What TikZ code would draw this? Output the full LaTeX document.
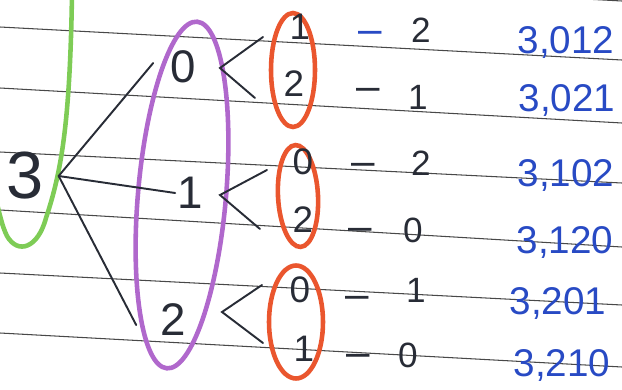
\documentclass[tikz,border=0pt]{standalone}
\usepackage{fontspec}
\setmainfont{Liberation Sans}
\usepackage{tikz}
\usetikzlibrary{positioning, shapes.geometric, calc}

\definecolor{stiftlila}{RGB}{176,104,204}
\definecolor{stiftrot}{RGB}{234,86,46}
\definecolor{stiftgruen}{RGB}{126,204,86}
\definecolor{stiftblau}{RGB}{40,74,196}
\definecolor{linie}{RGB}{72,72,72}
\definecolor{tinte}{RGB}{40,44,54}

\begin{document}
\begin{tikzpicture}[
                x=0.02cm, y=-0.02cm,
                ruling/.style={draw=linie, line width=0.6pt},
                wurzel/.style={inner sep=1pt, text=tinte, font=\fontsize{38}{40}\selectfont},
                stufeeins/.style={inner sep=1pt, text=tinte, font=\fontsize{26}{28}\selectfont},
                stufezwei/.style={inner sep=1pt, text=tinte, font=\fontsize{21}{24}\selectfont},
                stufedrei/.style={inner sep=1pt, text=tinte, font=\fontsize{20}{22}\selectfont},
                strich/.style={inner sep=0pt, anchor=mid, yshift=-0.18cm, text=tinte, font=\fontsize{24}{26}\selectfont},
                ergebnis/.style={inner sep=1pt, text=stiftblau, font=\fontsize{22}{25}\selectfont},
                edge/.style={draw=tinte, line width=1.1pt, line cap=round},
                huelle/.style={draw, ellipse, line width=2.6pt, inner sep=0pt}
            ]

            \useasboundingbox (0,0) rectangle (622,389);

            % Linien
            \begin{scope}
                \clip (0,0) rectangle (622,389);
                \draw[ruling] (0,-32) -- (622,1);
                \draw[ruling] (0,27) -- (622,60);
                \draw[ruling] (0,88) -- (622,123);
                \draw[ruling] (0,152) -- (622,183);
                \draw[ruling] (0,210) -- (622,247);
                \draw[ruling] (0,273) -- (622,305);
                \draw[ruling] (0,333) -- (622,367);
                \draw[stiftgruen, line width=2.6pt, line cap=round] (72,-6) .. controls (70,120) and (62,170) .. (46,218) .. controls (38,248) and (18,255) .. (7,236) .. controls (2,226) and (0,215) .. (-4,200);
            \end{scope}

            % Huellen
            \node[huelle, draw=stiftlila, minimum width=1.76cm, minimum height=6.96cm, rotate=-5] (lila) at (182,195) {};
            \node[huelle, draw=stiftrot, minimum width=0.88cm, minimum height=2.28cm] (rot0) at (293,70) {};
            \node[huelle, draw=stiftrot, minimum width=0.8cm, minimum height=2.04cm, rotate=3] (rot1) at (298,196) {};
            \node[huelle, draw=stiftrot, minimum width=1.08cm, minimum height=2.26cm] (rot2) at (296,322) {};

            % Knoten
            \node[wurzel] (r) at (25,176) {3};
            \node[stufeeins] (a0) at (183,67) {0};
            \node[stufeeins] (a1) at (190,193) {1};
            \node[stufeeins] (a2) at (173,320) {2};

            \node[stufezwei] (b01) at (300,27) {1};
            \node[stufezwei] (b02) at (294,84) {2};
            \node[stufezwei] (b10) at (303,162) {0};
            \node[stufezwei] (b12) at (303,220) {2};
            \node[stufezwei] (b20) at (300,290) {0};
            \node[stufezwei] (b21) at (304,349) {1};

            \node[strich, text=stiftblau] (s1) at (370,30) {--};
            \node[strich] (s2) at (368,87) {--};
            \node[strich] (s3) at (363,162) {--};
            \node[strich] (s4) at (360,227) {--};
            \node[strich] (s5) at (357,295) {--};
            \node[strich] (s6) at (358,353) {--};

            \node[stufedrei] (c1) at (421,30) {2};
            \node[stufedrei] (c2) at (418,97) {1};
            \node[stufedrei] (c3) at (421,163) {2};
            \node[stufedrei] (c4) at (413,230) {0};
            \node[stufedrei] (c5) at (416,290) {1};
            \node[stufedrei] (c6) at (408,355) {0};

            \node[ergebnis] (e1) at (566,42) {3,012};
            \node[ergebnis] (e2) at (567,100) {3,021};
            \node[ergebnis] (e3) at (566,175) {3,102};
            \node[ergebnis] (e4) at (565,242) {3,120};
            \node[ergebnis] (e5) at (558,303) {3,201};
            \node[ergebnis] (e6) at (562,365) {3,210};

            % Kanten von der Wurzel
            \coordinate (gabel) at ([xshift=0.26cm]r.east);
            \coordinate (g0) at ([xshift=-0.3cm, yshift=0.08cm]a0.west);
            \coordinate (g2) at ([xshift=-0.44cm, yshift=-0.1cm]a2.west);
            \draw[edge] (gabel) -- (g0);
            \draw[edge] (gabel) -- (a1.west);
            \draw[edge] (gabel) -- (g2);

            % Verzweigungen
            \coordinate (v0) at (220,68);
            \coordinate (v1) at (220,195);
            \coordinate (v2) at (222,312);
            \coordinate (k0a) at (263,37);
            \coordinate (k0b) at (255,98);
            \coordinate (k1a) at (267,170);
            \coordinate (k1b) at (260,229);
            \coordinate (k2a) at (262,285);
            \coordinate (k2b) at (263,343);
            \draw[edge] (k0a) -- (v0) -- (k0b);
            \draw[edge] (k1a) -- (v1) -- (k1b);
            \draw[edge] (k2a) -- (v2) -- (k2b);

        \end{tikzpicture}
\end{document}
